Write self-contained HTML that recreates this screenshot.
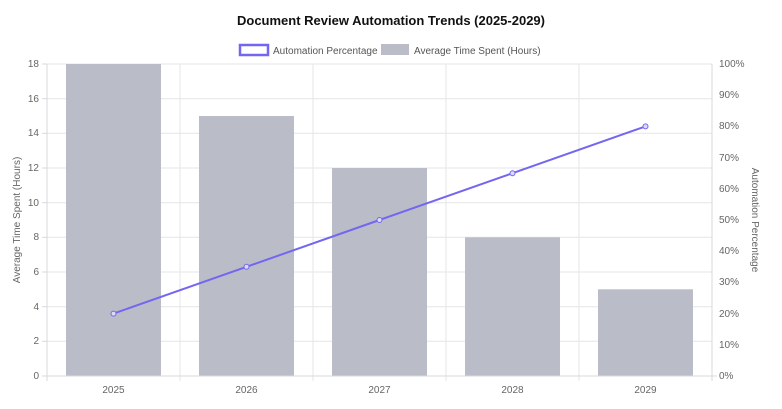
<!DOCTYPE html><html><head><style>body{margin:0;background:#fff}svg{display:block;font-family:"Liberation Sans",sans-serif}</style></head><body>
<svg width="782" height="409" viewBox="0 0 782 409">
<text x="391" y="25" text-anchor="middle" font-size="13" font-weight="bold" fill="#111">Document Review Automation Trends (2025-2029)</text>
<rect x="240" y="45" width="28" height="10" fill="#fff" stroke="#7366f0" stroke-width="2.5"/>
<text x="273" y="54" font-size="10" fill="#555">Automation Percentage</text>
<rect x="381" y="44" width="28" height="11" fill="#babdc7"/>
<text x="414" y="54" font-size="10" fill="#555">Average Time Spent (Hours)</text>
<g stroke="#e6e6ea" stroke-width="1">
<line x1="47" y1="64" x2="712" y2="64"/><line x1="47" y1="98.7" x2="712" y2="98.7"/><line x1="47" y1="133.3" x2="712" y2="133.3"/><line x1="47" y1="168" x2="712" y2="168"/><line x1="47" y1="202.7" x2="712" y2="202.7"/><line x1="47" y1="237.3" x2="712" y2="237.3"/><line x1="47" y1="272" x2="712" y2="272"/><line x1="47" y1="306.7" x2="712" y2="306.7"/><line x1="47" y1="341.3" x2="712" y2="341.3"/>
<line x1="180" y1="64" x2="180" y2="381"/><line x1="313" y1="64" x2="313" y2="381"/><line x1="446" y1="64" x2="446" y2="381"/><line x1="579" y1="64" x2="579" y2="381"/>
</g>
<g fill="#babdc7">
<rect x="66" y="64" width="95" height="312"/><rect x="199" y="116" width="95" height="260"/><rect x="332" y="168" width="95" height="208"/><rect x="465" y="237.3" width="95" height="138.7"/><rect x="598" y="289.3" width="95" height="86.7"/>
</g>
<g stroke="#d8d8de"><line x1="42" y1="376" x2="717" y2="376"/><line x1="47" y1="64" x2="47" y2="381"/><line x1="712" y1="64" x2="712" y2="381"/>
<line x1="42" y1="64" x2="47" y2="64"/><line x1="42" y1="98.7" x2="47" y2="98.7"/><line x1="42" y1="133.3" x2="47" y2="133.3"/><line x1="42" y1="168" x2="47" y2="168"/><line x1="42" y1="202.7" x2="47" y2="202.7"/><line x1="42" y1="237.3" x2="47" y2="237.3"/><line x1="42" y1="272" x2="47" y2="272"/><line x1="42" y1="306.7" x2="47" y2="306.7"/><line x1="42" y1="341.3" x2="47" y2="341.3"/>
</g>
<g font-size="10" fill="#666" text-anchor="end">
<text x="39" y="67">18</text><text x="39" y="102">16</text><text x="39" y="136">14</text><text x="39" y="171">12</text><text x="39" y="206">10</text><text x="39" y="240">8</text><text x="39" y="275">6</text><text x="39" y="310">4</text><text x="39" y="344">2</text><text x="39" y="379">0</text>
</g>
<g font-size="10" fill="#666">
<text x="719" y="67">100%</text><text x="719" y="98">90%</text><text x="719" y="129">80%</text><text x="719" y="161">70%</text><text x="719" y="192">60%</text><text x="719" y="223">50%</text><text x="719" y="254">40%</text><text x="719" y="285">30%</text><text x="719" y="317">20%</text><text x="719" y="348">10%</text><text x="719" y="379">0%</text>
</g>
<g font-size="10" fill="#666" text-anchor="middle">
<text x="113.5" y="393">2025</text><text x="246.5" y="393">2026</text><text x="379.5" y="393">2027</text><text x="512.5" y="393">2028</text><text x="645.5" y="393">2029</text>
</g>
<text transform="translate(20,220) rotate(-90)" font-size="10" fill="#666" text-anchor="middle">Average Time Spent (Hours)</text>
<text transform="translate(752,220) rotate(90)" font-size="10" fill="#666" text-anchor="middle">Automation Percentage</text>
<polyline points="113.5,313.6 246.5,266.8 379.5,220 512.5,173.2 645.5,126.4" fill="none" stroke="#7366f0" stroke-width="2"/>
<g fill="#dcdaf8" stroke="#7366f0" stroke-width="1">
<circle cx="113.5" cy="313.6" r="2.5"/><circle cx="246.5" cy="266.8" r="2.5"/><circle cx="379.5" cy="220" r="2.5"/><circle cx="512.5" cy="173.2" r="2.5"/><circle cx="645.5" cy="126.4" r="2.5"/>
</g>
</svg></body></html>
